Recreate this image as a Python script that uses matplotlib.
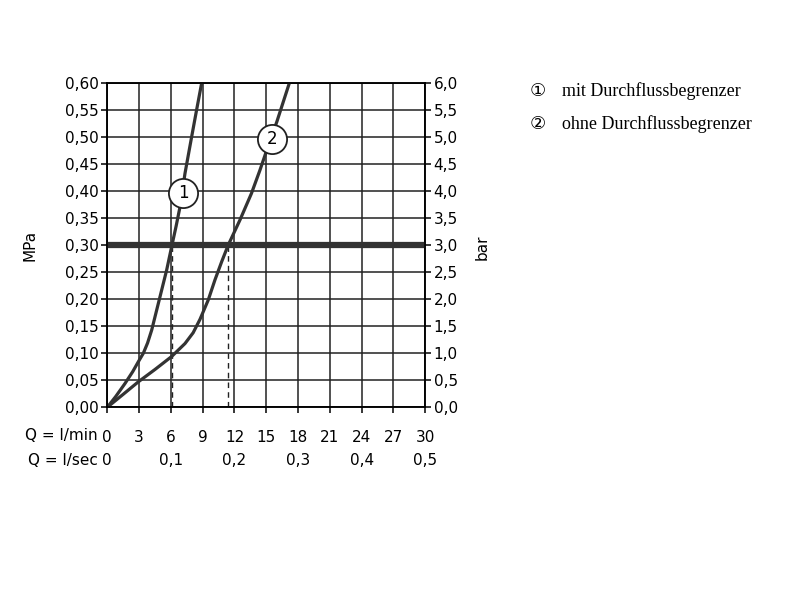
import matplotlib
matplotlib.use('Agg')
import matplotlib.pyplot as plt
import numpy as np

# Durchfluss Q (l/min) und Druck (MPa)
q_mit = [0, 0.8, 1.67, 2.4, 2.92, 3.4, 3.8, 4.19, 4.66, 5.13, 5.6, 6.1,
         6.5, 6.86, 7.33, 7.96, 8.43, 8.9]
p_mit = [0, 0.02, 0.044, 0.066, 0.084, 0.10, 0.119, 0.143, 0.18, 0.217, 0.254, 0.30,
         0.336, 0.371, 0.433, 0.501, 0.551, 0.60]
q_ohne = [0, 1.5, 2.92, 4.5, 6.07, 7.33, 8.1, 8.75, 9.53, 10.16, 10.8, 11.4,
          12.52, 13.6, 14.4, 15.04, 16.0, 17.17]
p_ohne = [0, 0.024, 0.047, 0.07, 0.094, 0.118, 0.138, 0.163, 0.199, 0.236, 0.27, 0.30,
          0.347, 0.396, 0.439, 0.476, 0.529, 0.60]
q_schnitt = [6.1, 11.4]   # Durchfluss bei 0,3 MPa
p_linie = 0.30

lmin_ticks = list(range(0, 31, 3))
lsec_ticks = [0, 0.1, 0.2, 0.3, 0.4, 0.5]
mpa_ticks = [i * 0.05 for i in range(13)]
bar_ticks = [i * 0.5 for i in range(13)]
labels = ['mit Durchflussbegrenzer', 'ohne Durchflussbegrenzer']
label_pos = [(7.17, 0.397), (15.57, 0.496)]

dunkel = '#333333'
komma = lambda v, n: f'{v:.{n}f}'.replace('.', ',')

fig = plt.figure(figsize=(8, 6), dpi=100)
ax = fig.add_axes([0.1341, 0.3212, 0.3975, 0.54])

ax.set_xlim(0, 30)
ax.set_ylim(0, 0.60)
ax.set_xticks(lmin_ticks)
ax.set_xticklabels([str(t) for t in lmin_ticks])
ax.set_yticks(mpa_ticks)
ax.set_yticklabels([komma(t, 2) for t in mpa_ticks])
ax.grid(True, color='#222222', lw=1.1)
ax.set_axisbelow(True)
for s in ax.spines.values():
    s.set_linewidth(1.1)
ax.tick_params(direction='out', length=4, width=1.1, labelsize=11, pad=2)
ax.tick_params(axis='x', pad=12)
ax.set_ylabel('MPa', fontsize=11)
ax.yaxis.set_label_coords(-0.221, 0.5)

ax.axhline(p_linie, color=dunkel, lw=4.5, zorder=3)
for q in q_schnitt:
    ax.plot([q, q], [0, p_linie], color='#222222', lw=1, ls=(0, (4, 3)), zorder=3)

ax.plot(q_mit, p_mit, color=dunkel, lw=2.3, zorder=4, solid_joinstyle='round')
ax.plot(q_ohne, p_ohne, color=dunkel, lw=2.3, zorder=4, solid_joinstyle='round')

for i, (x, y) in enumerate(label_pos):
    ax.plot(x, y, 'o', ms=21, mfc='white', mec='#222222', mew=1.3, zorder=5)
    ax.text(x, y, str(i + 1), ha='center', va='center', fontsize=12, zorder=6)

# zweite Achse: bar
ax2 = ax.twinx()
ax2.set_ylim(0, 6)
ax2.set_yticks(bar_ticks)
ax2.set_yticklabels([komma(t, 1) for t in bar_ticks])
ax2.tick_params(direction='out', length=4, width=1.1, labelsize=11, pad=2)
ax2.set_ylabel('bar', fontsize=11)
ax2.yaxis.set_label_coords(1.156, 0.495)
for s in ax2.spines.values():
    s.set_linewidth(1.1)

# zweite x-Zeile: l/sec
sec = ax.secondary_xaxis('bottom', functions=(lambda x: x / 60, lambda x: x * 60))
sec.set_xticks(lsec_ticks)
sec.set_xticklabels([komma(t, 1) if t else '0' for t in lsec_ticks])
sec.tick_params(length=0, labelsize=11, pad=33)
sec.spines['bottom'].set_visible(False)

ax.text(-0.03, -0.087, 'Q = l/min', transform=ax.transAxes, ha='right', va='center', fontsize=11)
ax.text(-0.03, -0.165, 'Q = l/sec', transform=ax.transAxes, ha='right', va='center', fontsize=11)

for i, t in enumerate(labels):
    fig.text(0.662, 0.848 - i * 0.055, chr(0x2460 + i), fontsize=13, va='center', family='DejaVu Sans')
    fig.text(0.702, 0.848 - i * 0.055, t, fontsize=13, va='center', family='Liberation Serif')

fig.savefig('out.png', dpi=100)
